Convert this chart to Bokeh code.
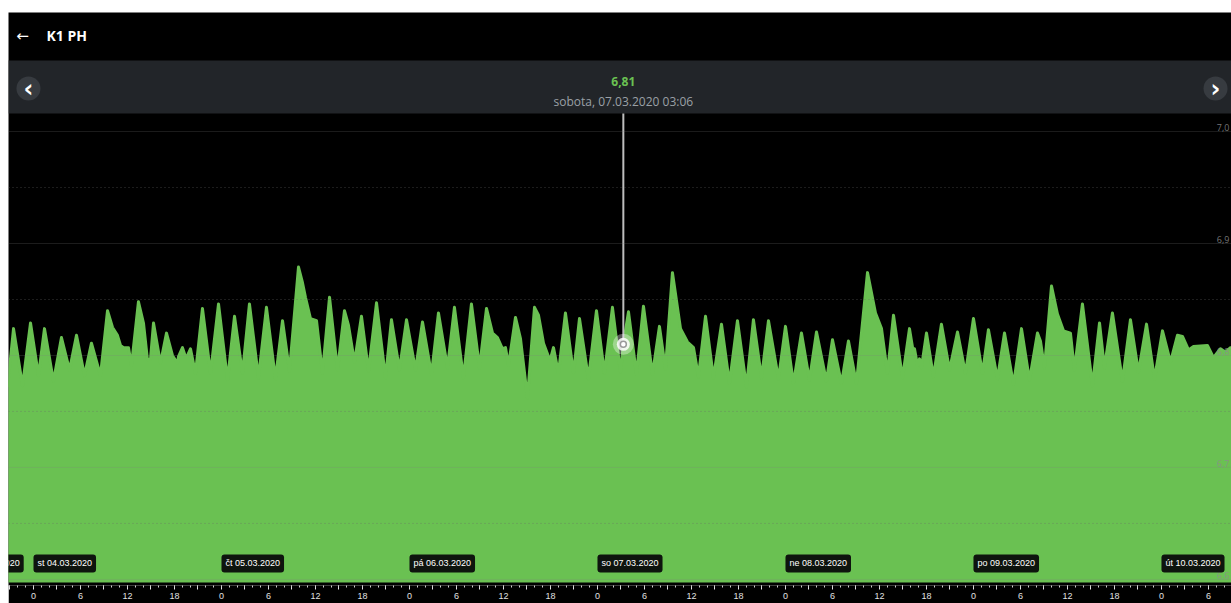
from bokeh.plotting import figure
from bokeh.models import Range1d, FixedTicker, Label, Span, BoxAnnotation, Spacer
from bokeh.layouts import column, row
from bokeh.embed import file_html
from bokeh.resources import INLINE

# ---------------- data ----------------
title = "K1 PH"
# hours relative to 04.03.2020 00:00
hours = [
    -3.3, -2.55, -1.40, -0.38, 0.64, 1.40, 2.55, 3.57, 4.60, 5.49,
    6.51, 7.40, 8.55, 9.45, 10.09, 10.72, 11.11, 11.49, 12.13, 12.51,
    13.40, 14.04, 14.55, 14.94, 15.32, 16.21, 16.98, 17.74, 18.38, 18.51,
    19.02, 19.40, 19.60, 20.04, 20.68, 21.57, 22.60, 23.62, 24.77, 25.66,
    26.68, 27.57, 28.72, 29.74, 30.89, 31.79, 32.68, 33.83, 34.34, 34.72,
    35.36, 36.13, 36.89, 37.79, 38.81, 39.70, 40.21, 40.98, 41.87, 42.77,
    43.79, 44.94, 45.70, 46.72, 47.62, 48.77, 49.66, 50.81, 51.70, 52.85,
    53.74, 54.89, 55.91, 56.94, 57.83, 58.60, 59.23, 59.87, 60.26, 60.64,
    61.53, 62.17, 63.06, 63.96, 64.47, 65.11, 65.74, 66.00, 66.38, 67.02,
    67.91, 68.94, 69.70, 70.85, 71.87, 72.89, 73.91, 74.94, 75.30, 75.96,
    76.98, 77.87, 79.02, 79.91, 80.68, 81.57, 82.60, 83.49, 84.26, 84.89,
    85.79, 86.81, 87.83, 88.85, 89.87, 91.02, 91.91, 92.94, 93.83, 95.11,
    96.00, 97.02, 98.04, 99.06, 99.96, 101.23, 102.00, 103.15, 104.04, 105.06,
    106.47, 107.49, 108.26, 109.02, 109.79, 110.94, 111.83, 112.34, 112.47, 112.85,
    113.11, 113.36, 114.00, 114.89, 115.91, 116.94, 117.96, 118.98, 120.00, 121.15,
    121.91, 123.06, 123.96, 125.11, 126.13, 127.15, 128.17, 128.55, 129.06, 129.96,
    130.72, 131.49, 132.38, 132.89, 133.91, 135.19, 136.09, 136.72, 137.74, 139.02,
    140.04, 141.06, 142.09, 143.11, 144.13, 145.15, 146.04, 146.68, 147.45, 148.09,
    149.87, 150.64, 151.53, 152.17, 152.81, 153.5,
]
ph = [
    6.772, 6.824, 6.773, 6.829, 6.782, 6.824, 6.777, 6.816, 6.787, 6.818,
    6.782, 6.811, 6.782, 6.840, 6.825, 6.818, 6.809, 6.807, 6.807, 6.791,
    6.848, 6.829, 6.796, 6.797, 6.829, 6.793, 6.820, 6.800, 6.793, 6.799,
    6.807, 6.799, 6.799, 6.806, 6.784, 6.842, 6.784, 6.846, 6.778, 6.835,
    6.784, 6.846, 6.780, 6.843, 6.779, 6.831, 6.786, 6.879, 6.865, 6.852,
    6.833, 6.831, 6.784, 6.852, 6.787, 6.840, 6.827, 6.794, 6.835, 6.786,
    6.847, 6.780, 6.832, 6.787, 6.832, 6.787, 6.830, 6.783, 6.838, 6.789,
    6.843, 6.780, 6.846, 6.789, 6.842, 6.820, 6.816, 6.806, 6.807, 6.791,
    6.834, 6.815, 6.762, 6.843, 6.836, 6.811, 6.799, 6.797, 6.807, 6.784,
    6.838, 6.784, 6.833, 6.779, 6.840, 6.784, 6.843, 6.785, 6.810, 6.839,
    6.783, 6.844, 6.783, 6.826, 6.788, 6.874, 6.824, 6.812, 6.807, 6.781,
    6.835, 6.780, 6.828, 6.775, 6.831, 6.772, 6.832, 6.780, 6.831, 6.779,
    6.826, 6.775, 6.820, 6.778, 6.821, 6.777, 6.814, 6.775, 6.813, 6.775,
    6.874, 6.838, 6.824, 6.784, 6.836, 6.780, 6.824, 6.802, 6.806, 6.791,
    6.797, 6.789, 6.820, 6.781, 6.828, 6.787, 6.821, 6.784, 6.833, 6.784,
    6.823, 6.779, 6.820, 6.774, 6.824, 6.778, 6.820, 6.813, 6.789, 6.862,
    6.837, 6.822, 6.820, 6.787, 6.846, 6.773, 6.829, 6.789, 6.838, 6.777,
    6.832, 6.785, 6.828, 6.779, 6.822, 6.794, 6.818, 6.817, 6.805, 6.808,
    6.809, 6.798, 6.806, 6.803, 6.807, 6.807,
]
assert len(hours) == len(ph)

day_names = ["út 03.03.2020", "st 04.03.2020", "čt 05.03.2020", "pá 06.03.2020",
             "so 07.03.2020", "ne 08.03.2020", "po 09.03.2020", "út 10.03.2020"]
day_hours = [-24, 0, 24, 48, 72, 96, 120, 144]

y_labels = [7.0, 6.9, 6.8, 6.7, 6.6]
y_minor = [6.95, 6.85, 6.75, 6.65]

marker_hour = 75.30
marker_value = 6.81
marker_text = "sobota, 07.03.2020 03:06"

# ---------------- styling ----------------
GREEN = "#6ac152"
X0, X1 = -3.191, 152.94
Y0, Y1 = 6.5946, 7.1063
BASE = 6.5973
BAR_TOP, BAR_BOT = 7.0634, 7.0161

p = figure(width=1223, height=591, output_backend="svg", toolbar_location=None,
           x_range=Range1d(X0, X1), y_range=Range1d(Y0, Y1),
           y_axis_location=None,
           background_fill_color="black", border_fill_color="black",
           min_border_left=0, min_border_right=0, min_border_top=0, min_border_bottom=18)
p.outline_line_color = None
p.grid.visible = False

# header bar (grey)
p.add_layout(BoxAnnotation(left=X0, right=X1, bottom=BAR_BOT, top=BAR_TOP,
                           fill_color="#222529", fill_alpha=1, line_color=None,
                           level="underlay"))

# area (with a round-joined edge so the crests look rounded as in the app)
p.varea(x=hours, y1=BASE, y2=ph, fill_color=GREEN, fill_alpha=1)
p.line(x=hours, y=ph, line_color=GREEN, line_width=3, line_join="round")

# grid lines
for v in y_labels:
    p.add_layout(Span(location=v, dimension="width", line_color="#808080",
                      line_alpha=0.22, line_width=1))
for v in y_minor:
    p.add_layout(Span(location=v, dimension="width", line_color="#6a6a6a",
                      line_alpha=0.55, line_width=1, line_dash="1 3"))

# y labels on the right
for v in y_labels:
    p.add_layout(Label(x=152.68, y=v + 0.0036, text=f"{v:.1f}".replace(".", ","),
                       text_font="Open Sans", text_font_size="9px",
                       text_color="#8c8c8c", text_alpha=0.85,
                       text_align="right", text_baseline="alphabetic"))

# crosshair + marker
p.segment(x0=[marker_hour], y0=[marker_value], x1=[marker_hour], y1=[BAR_BOT],
          line_color="#bdbdbd", line_width=2)
p.scatter([marker_hour], [marker_value], size=21, fill_color="white", fill_alpha=0.35, line_color=None)
p.scatter([marker_hour], [marker_value], size=13, fill_color="white", fill_alpha=0.85, line_color=None)
p.scatter([marker_hour], [marker_value], size=6, fill_color="white", line_color="#9a9a9a", line_width=1.5)

# nav buttons
p.scatter([-0.64, 150.9], [7.0384, 7.0384], size=24, fill_color="#373b40", line_color=None)
p.add_layout(Label(x=-0.64, y=7.0384, text="‹", text_font="DejaVu Sans", text_font_style="bold",
                   text_font_size="24px", text_color="white", text_align="center", text_baseline="middle"))
p.add_layout(Label(x=150.9, y=7.0384, text="›", text_font="DejaVu Sans", text_font_style="bold",
                   text_font_size="24px", text_color="white", text_align="center", text_baseline="middle"))

# title
p.add_layout(Label(x=-1.40, y=7.0857, text="←", text_font="DejaVu Sans",
                   text_font_size="15px", text_color="white", text_align="center", text_baseline="middle"))
p.add_layout(Label(x=1.66, y=7.0857, text=title, text_font="Open Sans", text_font_style="bold",
                   text_font_size="14px", text_color="white", text_align="left", text_baseline="middle"))

# tooltip texts
p.add_layout(Label(x=marker_hour, y=7.0446, text=f"{marker_value:.2f}".replace(".", ","),
                   text_font="Open Sans", text_font_style="bold", text_font_size="12px",
                   text_color=GREEN, text_align="center", text_baseline="middle"))
p.add_layout(Label(x=marker_hour, y=7.0268, text=marker_text,
                   text_font="Open Sans", text_font_size="12px",
                   text_color="#9aa0a6", text_align="center", text_baseline="middle"))

# day labels
for i, (name, h) in enumerate(zip(day_names, day_hours)):
    x = h if i > 0 else day_hours[1] - 9.3
    p.add_layout(Label(x=x, y=6.6143, text=name, text_font="Liberation Sans",
                       text_font_size="9px", text_color="white",
                       text_align="left", text_baseline="middle",
                       background_fill_color="#0e140e", background_fill_alpha=1,
                       border_radius=3, padding=4))

# bottom time axis
major = list(range(-3, 154, 3))
minor = list(range(-3, 154, 1))
ax = p.xaxis[0]
ax.ticker = FixedTicker(ticks=major, minor_ticks=minor)
ax.major_label_overrides = {t: (str(t % 24) if t % 6 == 0 else "") for t in major}
ax.axis_line_color = None
ax.major_tick_line_color = "#e6e6e6"
ax.major_tick_in = 0
ax.major_tick_out = 4
ax.minor_tick_line_color = "#cfcfcf"
ax.minor_tick_in = 0
ax.minor_tick_out = 2
ax.major_label_standoff = 3
ax.major_label_text_color = "#e0e0e0"
ax.major_label_text_font = "Liberation Sans"
ax.major_label_text_font_size = "9px"

layout = column(Spacer(width=1231, height=12), row(Spacer(width=8, height=591), p))
open("out.html", "w").write(file_html(layout, INLINE))
